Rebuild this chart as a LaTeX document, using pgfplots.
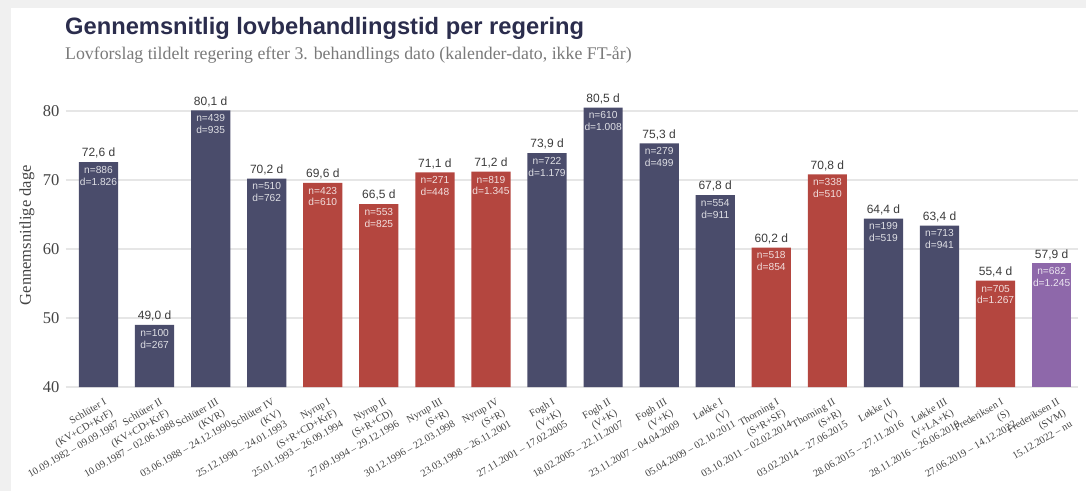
\documentclass[border=0pt]{standalone}
\usepackage{pgfplots}
\pgfplotsset{compat=1.18}
\usepackage{pgfplotstable}
\usepackage{fontspec}
\setmainfont{Liberation Serif}
\newfontfamily\sansf{Liberation Sans}

\definecolor{navy}{HTML}{4A4C6B}
\definecolor{redbar}{HTML}{B4463F}
\definecolor{purplebar}{HTML}{8E68AA}
\definecolor{titlec}{HTML}{2B2D4D}
\definecolor{subc}{HTML}{7A7A7A}
\definecolor{valc}{HTML}{3C3C3C}
\definecolor{tickc}{HTML}{444444}
\definecolor{gridc}{HTML}{E6E6E6}
\definecolor{pagebg}{HTML}{F0F0F0}

\pgfplotstableread{
x y n d
0 72.6 886 1826
1 49.0 100 267
2 80.1 439 935
3 70.2 510 762
8 73.9 722 1179
9 80.5 610 1008
10 75.3 279 499
11 67.8 554 911
14 64.4 199 519
15 63.4 713 941
}\navytab

\pgfplotstableread{
x y n d
4 69.6 423 610
5 66.5 553 825
6 71.1 271 448
7 71.2 819 1345
12 60.2 518 854
13 70.8 338 510
16 55.4 705 1267
}\redtab

\pgfplotstableread{
x y n d
17 57.9 682 1245
}\purpletab

\pgfplotsset{
  valuelabel/.style={
    nodes near coords={\pgfmathprintnumber[fixed,fixed zerofill,precision=1,use comma,assume math mode=true]{\pgfplotspointmeta}~d},
    nodes near coords style={font=\sansf\fontsize{12}{13}\selectfont, text=valc, anchor=south, inner sep=0pt, yshift=3.5pt},
  },
  innerlabel/.style={
    draw=none, fill=none, forget plot,
    visualization depends on={\thisrow{n}\as\nval},
    visualization depends on={\thisrow{d}\as\dval},
    nodes near coords={n=\pgfmathprintnumber[fixed,precision=0,1000 sep={.},assume math mode=true]{\nval}\\d=\pgfmathprintnumber[fixed,precision=0,1000 sep={.},assume math mode=true]{\dval}},
    nodes near coords style={font=\sansf\fontsize{10.2}{11.8}\selectfont, text=white, text opacity=0.82, anchor=north, align=center, inner sep=0pt, yshift=-4pt},
  },
}

\begin{document}
\begin{tikzpicture}
\fill[pagebg] (0pt,0pt) rectangle (1086pt,491pt);
\fill[white] (11pt,0pt) rectangle (1086pt,483pt);
\node[anchor=base west, inner sep=0pt, text=titlec, font=\sansf\bfseries\fontsize{23.7}{28}\selectfont] at (65pt,456pt) {Gennemsnitlig lovbehandlingstid per regering};
\node[anchor=base west, inner sep=0pt, text=subc, font=\fontsize{17.8}{20}\selectfont] at (65pt,431pt) {Lovforslag tildelt regering efter 3. behandlings dato (kalender-dato, ikke FT-år)};
\begin{axis}[
  at={(66pt,104pt)}, anchor=south west,
  scale only axis, width=1012pt, height=303.6pt,
  xmin=-0.58, xmax=17.47, ymin=40, ymax=84,
  axis line style={draw=none},
  tick style={draw=none},
  ymajorgrids, grid style={gridc, line width=1.3pt},
  ytick={40,50,60,70,80},
  yticklabel style={font=\fontsize{16.5}{18}\selectfont, text=tickc, xshift=-3pt},
  /pgf/number format/assume math mode=true,
  ylabel={Gennemsnitlige dage},
  ylabel style={font=\fontsize{16.5}{19}\selectfont, text=tickc, at={(axis description cs:-0.0385,0.5)}, anchor=center},
  xtick={0,...,17},
  xticklabels={
    {Schlüter I\\(KV+CD+KrF)\\10.09.1982 – 09.09.1987},
    {Schlüter II\\(KV+CD+KrF)\\10.09.1987 – 02.06.1988},
    {Schlüter III\\(KVR)\\03.06.1988 – 24.12.1990},
    {Schlüter IV\\(KV)\\25.12.1990 – 24.01.1993},
    {Nyrup I\\(S+R+CD+KrF)\\25.01.1993 – 26.09.1994},
    {Nyrup II\\(S+R+CD)\\27.09.1994 – 29.12.1996},
    {Nyrup III\\(S+R)\\30.12.1996 – 22.03.1998},
    {Nyrup IV\\(S+R)\\23.03.1998 – 26.11.2001},
    {Fogh I\\(V+K)\\27.11.2001 – 17.02.2005},
    {Fogh II\\(V+K)\\18.02.2005 – 22.11.2007},
    {Fogh III\\(V+K)\\23.11.2007 – 04.04.2009},
    {Løkke I\\(V)\\05.04.2009 – 02.10.2011},
    {Thorning I\\(S+R+SF)\\03.10.2011 – 02.02.2014},
    {Thorning II\\(S+R)\\03.02.2014 – 27.06.2015},
    {Løkke II\\(V)\\28.06.2015 – 27.11.2016},
    {Løkke III\\(V+LA+K)\\28.11.2016 – 26.06.2019},
    {Frederiksen I\\(S)\\27.06.2019 – 14.12.2022},
    {Frederiksen II\\(SVM)\\15.12.2022 – nu}
  },
  xticklabel style={rotate=30, anchor=north east, align=right, font=\fontsize{10.3}{12.8}\selectfont, text=tickc, inner sep=0pt, xshift=1pt, yshift=-8pt},
  ybar, bar width=39.2pt,
  clip=false,
]
\addplot[fill=navy, draw=none, bar shift=0pt, valuelabel] table[x=x,y=y]{\navytab};
\addplot[fill=redbar, draw=none, bar shift=0pt, valuelabel] table[x=x,y=y]{\redtab};
\addplot[fill=purplebar, draw=none, bar shift=0pt, valuelabel] table[x=x,y=y]{\purpletab};
\addplot[bar shift=0pt, innerlabel] table[x=x,y=y]{\navytab};
\addplot[bar shift=0pt, innerlabel] table[x=x,y=y]{\redtab};
\addplot[bar shift=0pt, innerlabel] table[x=x,y=y]{\purpletab};
\end{axis}
\pgfresetboundingbox
\path (0pt,0pt) rectangle (1086pt,491pt);
\end{tikzpicture}
\end{document}
